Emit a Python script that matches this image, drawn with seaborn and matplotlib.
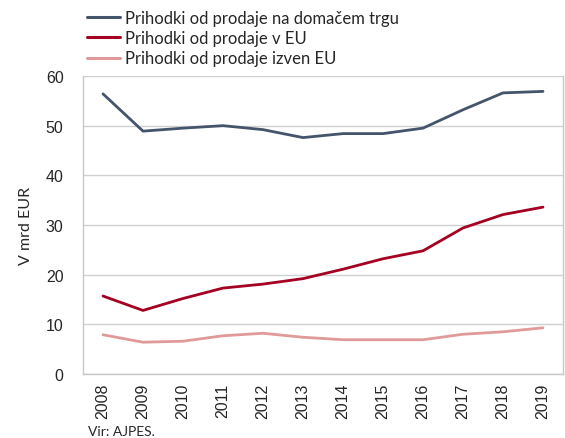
import matplotlib
matplotlib.use("Agg")
import matplotlib.pyplot as plt
import seaborn as sns
import pandas as pd
from matplotlib.lines import Line2D

years = [2008, 2009, 2010, 2011, 2012, 2013, 2014, 2015, 2016, 2017, 2018, 2019]
domestic = [56.4, 48.9, 49.5, 50.0, 49.2, 47.6, 48.4, 48.4, 49.5, 53.2, 56.6, 56.9]
eu = [15.7, 12.8, 15.2, 17.3, 18.1, 19.2, 21.1, 23.2, 24.8, 29.4, 32.1, 33.6]
non_eu = [7.9, 6.4, 6.6, 7.7, 8.2, 7.4, 6.9, 6.9, 6.9, 8.0, 8.5, 9.3]

series_names = [
    "Prihodki od prodaje na domačem trgu",
    "Prihodki od prodaje v EU",
    "Prihodki od prodaje izven EU",
]
colors = ["#44546A", "#A50021", "#E09A9A"]

df = pd.concat([
    pd.DataFrame({"leto": years, "vrednost": vals, "serija": name})
    for name, vals in zip(series_names, [domestic, eu, non_eu])
])

sns.set_style("white")
plt.rcParams["font.family"] = ["Liberation Sans", "DejaVu Sans"]

fig = plt.figure(figsize=(5.65, 4.39), dpi=100)
ax = fig.add_axes([83 / 565, 1 - 375 / 439, 480 / 565, 298 / 439])

sns.lineplot(data=df, x="leto", y="vrednost", hue="serija",
             palette=dict(zip(series_names, colors)), linewidth=2.0,
             ax=ax, legend=False)

ax.set_xlim(2007.5, 2019.5)
ax.set_ylim(0, 60)
ax.set_yticks(range(0, 61, 10))
ax.set_xticks(years)
ax.set_xticklabels([str(y) for y in years], rotation=90, fontsize=11.5)
ax.tick_params(axis="y", labelsize=11.5, length=0, pad=14)
ax.tick_params(axis="x", length=0, pad=6)
ax.grid(axis="y", color="#D0D0D0", linewidth=1.0)
ax.set_axisbelow(True)
ax.spines["top"].set_visible(False)
for side in ["left", "bottom", "right"]:
    ax.spines[side].set_color("#C8C8C8")
    ax.spines[side].set_linewidth(1.0)
ax.set_xlabel("")
ax.set_ylabel("V mrd EUR", fontsize=11.5, family=["Lato", "DejaVu Sans"], labelpad=9)

handles = [Line2D([0], [0], color=c, linewidth=2.2) for c in colors]
fig.legend(handles, series_names, loc="upper left",
           bbox_to_anchor=(80 / 565, 1 - 4 / 439), frameon=False,
           prop={"family": ["Lato", "DejaVu Sans"], "size": 12},
           handlelength=2.0, handletextpad=0.3, labelspacing=0.26,
           borderaxespad=0.0)

fig.text(88 / 565, 1 - 432 / 439, "Vir: AJPES.", fontsize=10,
         family=["Lato", "DejaVu Sans"], va="center", ha="left")

fig.savefig("out.png", dpi=100)
